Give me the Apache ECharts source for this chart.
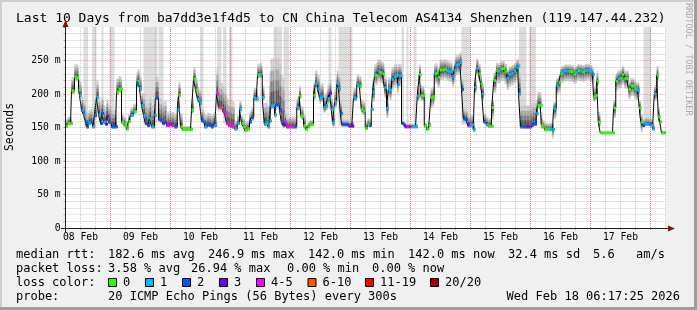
<!DOCTYPE html>
<html>
<head>
<meta charset="utf-8">
<script src="https://cdn.jsdelivr.net/npm/echarts@6/dist/echarts.min.js"></script>
<style>
  html, body { margin: 0; padding: 0; background: #f0f0f0; }
  #main { width: 697px; height: 310px; }
</style>
</head>
<body>
<div id="main"></div>
<script>
// hours counted from 08 Feb 00:00, the graph covers 06:17 08 Feb .. 06:17 18 Feb
var startHour = 6;
var endHour = 246;
var yMax = 300;

// median rtt (ms), one entry per step
var hours = [
  6, 6.8, 8, 8.4, 9.6, 10.4, 11.2, 11.6, 12.4, 13.2, 14, 14.4, 15.2, 16, 16.8, 17.6, 18.4, 19.2, 20, 20.4,
  21.2, 22, 22.4, 23.2, 23.8, 24.4, 26, 26.4, 27.2, 28, 28.4, 29.2, 29.8, 30.4, 31.2, 32, 33.1, 33.6, 34.4, 34.8,
  35.6, 36.4, 37.2, 37.9, 38.8, 39.6, 40.4, 41.6, 42, 43.2, 44, 44.8, 45.6, 46.4,
  46.8, 47.6, 48.4, 49.6, 50.7, 51.2, 52, 52.8, 54.4, 56, 56.4, 57.2, 58, 58.8, 59.6, 60.4, 61.2, 61.6, 62.7, 63.5,
  64.3, 65.1, 65.7, 66.4, 67.2, 68, 68.9, 69.6, 70.4, 71.1, 72, 72.7, 73.6, 74.7, 75.6, 76.4, 77.1, 77.7, 78.7, 79.6,
  80.4, 81.3, 82.3, 82.8, 83.7, 84.7, 85.5, 86.3, 86.9, 87.6,
  88, 88.8, 89.6, 90.1, 90.9, 91.6, 92.3, 92.9, 93.6, 94.3, 95.2, 96.4, 97.6, 98.5, 99.5, 100.1, 100.5, 101.2, 102.1, 102.9,
  103.7, 104.5, 105.2, 105.9, 106.8, 107.6, 108.3, 109.2, 110.1, 110.8, 111.6, 112.3, 112.8, 113.6, 114.5, 115.2, 115.9, 116.5, 117.6, 118.5,
  119.2, 120.5, 121.2, 122.5, 123.5, 124.3, 124.9, 125.9, 126.8, 127.5, 128.3,
  128.8, 129.6, 130, 130.8, 131.7, 132.7, 133.5, 134.4, 135.1, 135.7, 136.4, 137.3, 138, 138.8, 139.1, 139.9, 140.4, 141.1, 141.7, 142.5,
  143.3, 144.4, 145.2, 146, 146.7, 147.5, 148.1, 148.7, 149.5, 150.4, 151.3, 152.1, 152.8, 153.5, 154, 154.8, 155.7, 156.7, 157.5, 158.4,
  159.3, 160, 160.7, 161.5, 162, 162.8, 163.7, 164.4, 165.1, 166, 166.8, 167.7, 168.4, 169.1,
  169.6, 170.3, 171.2, 172, 172.5, 173.3, 174.3, 175.2, 176.3, 176.5, 177.3, 178.3, 178.9, 180, 180.9, 181.6, 182.5, 183.3, 184.3, 185.3,
  186.3, 186.9, 187.2, 188, 189.2, 190.4, 191.6, 192.3, 192.9, 193.6, 194.3, 194.8, 195.9, 196.3, 196.7, 197.6, 198.8, 199.6, 200.8, 201.2,
  202.3, 203.2, 204, 204.5, 205.6, 206.7, 207.6, 208.3, 209.3, 210, 210.8,
  211.5, 212.8, 213.7, 214.8, 215.6, 215.9, 216.8, 217.2, 217.9, 218.5, 219.1, 219.9, 221.6, 223.2, 224.8, 225.2, 226.1, 226.8, 227.9, 228.5,
  229.5, 230.4, 231.2, 232.1, 232.8, 233.5, 234.1, 234.8, 235.5, 236.1, 236.8, 237.7, 238.7, 239.6, 240.1, 240.8, 241.5, 242.5, 243.1, 243.7,
  244.4, 245.6
];
var median = [
  152, 156, 156, 205, 225, 224, 206, 198, 176, 169, 158, 151, 156, 158, 151, 168, 195, 169, 156, 171,
  158, 155, 167, 158, 157, 151, 151, 203, 207, 207, 158, 155, 152, 148, 159, 168, 173, 174, 214, 219,
  208, 183, 168, 156, 153, 163, 151, 168, 194, 162, 160, 156, 158, 153,
  153, 155, 153, 151, 176, 198, 151, 147, 147, 147, 176, 222, 206, 192, 187, 160, 158, 151, 154, 153,
  151, 154, 153, 200, 180, 179, 174, 170, 156, 153, 152, 151, 148, 156, 177, 156, 151, 146, 148, 159,
  165, 194, 193, 228, 229, 195, 155, 156, 151, 160,
  182, 183, 169, 184, 184, 176, 158, 154, 158, 151, 151, 151, 151, 180, 197, 168, 166, 153, 147, 151,
  154, 154, 198, 215, 208, 194, 196, 180, 183, 193, 201, 177, 158, 188, 215, 208, 171, 154, 154, 154,
  152, 152, 194, 214, 212, 177, 174, 149, 154, 153, 177,
  203, 227, 228, 234, 232, 230, 209, 179, 207, 206, 222, 226, 227, 214, 227, 227, 156, 154, 151, 151,
  151, 151, 151, 151, 197, 229, 198, 197, 152, 147, 153, 194, 196, 230, 231, 225, 236, 236, 237, 235,
  234, 233, 226, 235, 243, 244, 247, 207, 163, 162, 154, 154, 154, 147,
  210, 238, 230, 215, 200, 158, 154, 152, 152, 180, 220, 235, 234, 237, 238, 233, 224, 229, 231, 234,
  239, 242, 200, 151, 151, 151, 151, 153, 156, 155, 171, 183, 183, 153, 151, 147, 147, 147, 147, 178,
  213, 217, 230, 232, 234, 234, 234, 233, 230, 232, 235,
  234, 233, 235, 235, 235, 233, 229, 196, 198, 219, 158, 142, 142, 142, 142, 179, 219, 223, 224, 229,
  223, 223, 207, 212, 212, 208, 206, 206, 179, 158, 153, 155, 155, 155, 153, 148, 200, 228, 166, 158,
  142, 142
];
// loss bucket per step (index into lossLabels)
var loss = [
  0, 0, 0, 0, 0, 0, 0, 1, 1, 1, 2, 2, 1, 2, 1, 2, 1, 1, 2, 2,
  1, 3, 3, 2, 2, 2, 2, 0, 0, 0, 0, 0, 0, 0, 0, 1, 1, 0, 2, 0,
  1, 1, 1, 2, 2, 1, 1, 1, 2, 2, 2, 2, 3, 4,
  4, 3, 4, 2, 1, 0, 0, 0, 0, 0, 0, 0, 0, 1, 1, 2, 2, 1, 2, 2,
  2, 2, 1, 4, 4, 5, 4, 4, 4, 4, 4, 4, 1, 1, 1, 0, 0, 0, 0, 2,
  2, 1, 1, 0, 1, 1, 1, 1, 1, 1,
  1, 1, 1, 2, 2, 2, 2, 3, 4, 4, 4, 4, 2, 1, 0, 0, 0, 0, 0, 0,
  0, 0, 0, 1, 1, 1, 1, 1, 1, 1, 3, 1, 1, 1, 1, 1, 2, 2, 2, 2,
  3, 3, 1, 1, 0, 0, 0, 0, 0, 2, 1,
  1, 0, 0, 1, 0, 0, 1, 1, 1, 1, 1, 1, 1, 1, 1, 1, 2, 2, 3, 4,
  3, 1, 1, 1, 1, 0, 0, 0, 0, 0, 0, 0, 0, 1, 0, 0, 0, 0, 0, 1,
  1, 1, 1, 1, 1, 1, 1, 2, 2, 2, 3, 1, 1, 1,
  1, 1, 0, 0, 1, 2, 1, 0, 0, 0, 0, 0, 1, 0, 0, 0, 1, 1, 1, 1,
  1, 1, 1, 2, 2, 3, 3, 2, 2, 2, 1, 0, 0, 0, 0, 0, 0, 1, 1, 1,
  1, 0, 0, 1, 1, 1, 0, 0, 0, 1, 0,
  1, 0, 1, 1, 1, 1, 1, 0, 0, 0, 0, 0, 0, 0, 0, 0, 0, 1, 0, 0,
  0, 0, 0, 0, 0, 0, 1, 1, 0, 0, 2, 1, 1, 2, 1, 1, 1, 0, 0, 0,
  0, 0
];

// smoke spread around the median (ms above / below), by time block
var smokeStart = [6, 8.4, 11.6, 16.8, 26.4, 28.4, 34.4, 37.2, 46, 52.8,
  56.4, 60.4, 66.4, 73.6, 79.6, 82.8, 85.2, 87.2, 93.6, 98.4,
  102, 105.2, 116.4, 121.2, 125.6, 128.8, 140.4, 146.4, 149.2, 152,
  164.4, 169.6, 173.2, 176.4, 187.2, 194, 196.4, 200.8, 217.2, 219.6,
  225.2, 236.8, 241.2, 243.6];
var smokeUp = [10, 20, 20, 25, 20, 12, 18, 32, 20, 5,
  18, 18, 38, 12, 15, 17, 32, 70, 15, 15,
  7, 20, 8, 15, 10, 18, 5, 15, 5, 15,
  15, 15, 12, 12, 32, 20, 10, 10, 15, 0,
  12, 10, 14, 3];
var smokeDown = [3, 5, 3, 3, 5, 3, 5, 3, 3, 2,
  5, 3, 3, 3, 5, 5, 3, 5, 3, 5,
  2, 8, 2, 5, 3, 15, 2, 8, 2, 15,
  5, 10, 3, 18, 3, 5, 3, 15, 8, 0,
  15, 3, 10, 1];

// periods where some pings went off the top of the graph
var spikeFrom = [13.2, 16.6, 20.4, 23.6, 37.2, 43.2, 60, 66.6, 69, 71.4, 89.2, 93.2, 111.2, 115.2, 140.4, 142.4, 145.2, 164.4, 187.4, 191.4, 237.2];
var spikeTo = [15, 18.4, 21.2, 25.6, 42.8, 45.2, 61.2, 68.4, 70.4, 72.8, 92.6, 95.4, 112.4, 120.8, 141.4, 143.2, 146.4, 168, 190.4, 194.2, 240.2];
var spikeLow = [151, 151, 158, 151, 153, 156, 158, 174, 156, 151, 176, 151, 177, 152, 154, 151, 151, 154, 151, 153, 153];

var lossLabels = ['0', '1', '2', '3', '4-5', '6-10', '11-19', '20/20'];
var lossColors = ['#26ff00', '#00b8ff', '#0059ff', '#6a00ff', '#ff00ff', '#ff5500', '#ff0000', '#a10000'];

var rttStats = ['182.6 ms avg', '246.9 ms max', '142.0 ms min', '142.0 ms now', '32.4 ms sd', '5.6', 'am/s'];
var lossStats = ['3.58 % avg', '26.94 % max', '0.00 % min', '0.00 % now'];
var probeText = '20 ICMP Echo Pings (56 Bytes) every 300s';
var stampText = 'Wed Feb 18 06:17:25 2026';
var titleText = 'Last 10 Days from ba7dd3e1f4d5 to CN China Telecom AS4134 Shenzhen (119.147.44.232)';

var MONO = '"DejaVu Sans Mono"';

function smokeIndex(h) {
  var k = 0;
  for (var j = 0; j < smokeStart.length; j++) {
    if (smokeStart[j] <= h) k = j;
  }
  return k;
}

var stepRows = hours.map(function (h, i) {
  var next = i + 1 < hours.length ? hours[i + 1] : endHour;
  var k = smokeIndex(h);
  return [h, next, median[i], smokeUp[k], smokeDown[k], loss[i]];
});
var lineData = hours.map(function (h, i) { return [h, median[i]]; });
lineData.push([endHour, median[median.length - 1]]);
var spikeRows = spikeFrom.map(function (f, i) { return [f, spikeTo[i], spikeLow[i]]; });

var midnights = [];
for (var d = 24; d < endHour; d += 24) midnights.push({ xAxis: d });

function spikeItem(params, api) {
  var a = api.coord([api.value(0), yMax]);
  var b = api.coord([api.value(1), api.value(2)]);
  return { type: 'rect', shape: { x: a[0], y: a[1], width: b[0] - a[0], height: b[1] - a[1] },
    style: { fill: '#dddddd' } };
}

function smokeItem(params, api) {
  var t0 = api.value(0), t1 = api.value(1), m = api.value(2), up = api.value(3), dn = api.value(4);
  var layers = [[1, '#cccccc'], [0.75, '#a8a8a8'], [0.52, '#808080'], [0.3, '#555555']];
  var kids = layers.map(function (l) {
    var a = api.coord([t0, m + up * l[0]]);
    var b = api.coord([t1, m - dn * l[0]]);
    return { type: 'rect', shape: { x: a[0], y: a[1], width: b[0] - a[0], height: b[1] - a[1] },
      style: { fill: l[1] } };
  });
  return { type: 'group', children: kids };
}

function markerItem(params, api) {
  var a = api.coord([api.value(0), api.value(2)]);
  var b = api.coord([api.value(1), api.value(2)]);
  var w = Math.max(b[0] - a[0], 2.5);
  return { type: 'rect', shape: { x: a[0], y: a[1] - 1.5, width: w, height: 3 },
    style: { fill: lossColors[api.value(5)] } };
}

function txt(x, y, s, extra) {
  return { type: 'text', x: x, y: y, silent: true,
    style: Object.assign({ text: s, font: '12px ' + MONO, fill: '#000', textVerticalAlign: 'middle' }, extra || {}) };
}

var graphics = [
  { type: 'rect', shape: { x: 0, y: 0, width: 697, height: 2 }, style: { fill: '#cfcfcf' } },
  { type: 'rect', shape: { x: 0, y: 0, width: 2, height: 310 }, style: { fill: '#cfcfcf' } },
  { type: 'rect', shape: { x: 0, y: 307, width: 697, height: 3 }, style: { fill: '#9e9e9e' } },
  { type: 'rect', shape: { x: 694, y: 0, width: 3, height: 310 }, style: { fill: '#9e9e9e' } },
  // axes and arrows
  { type: 'line', shape: { x1: 65.5, y1: 232, x2: 65.5, y2: 24 }, style: { stroke: '#202020', lineWidth: 1 }, z: 10 },
  { type: 'line', shape: { x1: 61, y1: 228.5, x2: 670, y2: 228.5 }, style: { stroke: '#202020', lineWidth: 1 }, z: 10 },
  { type: 'polygon', shape: { points: [[62.5, 27], [68.5, 27], [65.5, 20]] }, style: { fill: '#8b1010' }, z: 10 },
  { type: 'polygon', shape: { points: [[668, 225.5], [668, 231.5], [675, 228.5]] }, style: { fill: '#8b1010' }, z: 10 },
  txt(16, 19, titleText, { font: '13px ' + MONO }),
  txt(10, 127, 'Seconds', { font: '11.4px ' + MONO, textAlign: 'center' }),
  { type: 'text', x: 688, y: 3, rotation: -Math.PI / 2, silent: true,
    style: { text: 'RRDTOOL / TOBI OETIKER', font: '8.5px ' + MONO, fill: '#aaaaaa', textVerticalAlign: 'middle' } }
];
graphics[9].rotation = Math.PI / 2;

var rttX = [108, 208, 308, 408, 508, 593, 636];
graphics.push(txt(16, 254.5, 'median rtt:'));
rttStats.forEach(function (s, i) { graphics.push(txt(rttX[i], 254.5, s)); });
var lossX = [108, 191, 287, 372];
graphics.push(txt(16, 268.5, 'packet loss:'));
lossStats.forEach(function (s, i) { graphics.push(txt(lossX[i], 268.5, s)); });
var boxX = [108, 145, 182, 219, 256, 307.5, 365, 430];
graphics.push(txt(16, 282.5, 'loss color:'));
lossLabels.forEach(function (s, i) {
  graphics.push({ type: 'rect', shape: { x: boxX[i] + 0.5, y: 278.5, width: 8, height: 8 },
    style: { fill: lossColors[i], stroke: '#000', lineWidth: 1 } });
  graphics.push(txt(boxX[i] + 15, 282.5, s));
});
graphics.push(txt(16, 296.5, 'probe:'));
graphics.push(txt(108, 296.5, probeText));
graphics.push(txt(680, 296.5, stampText, { textAlign: 'right' }));

function pad2(n) { return (n < 10 ? '0' : '') + n; }

var option = {
  backgroundColor: '#f0f0f0',
  animation: false,
  grid: { left: 65.5, right: 31.5, top: 27, bottom: 82, show: true, backgroundColor: '#ffffff', borderWidth: 0 },
  xAxis: {
    type: 'value', min: startHour, max: endHour, interval: 6, z: 5,
    axisLine: { show: false },
    axisTick: { show: true, length: 2, lineStyle: { color: '#b0b0b0' } },
    axisLabel: {
      margin: 4, fontFamily: 'DejaVu Sans Mono', fontSize: 9.7, color: '#000',
      showMinLabel: false, showMaxLabel: false,
      formatter: function (v) {
        if ((v - 12) % 24 !== 0) return '';
        return pad2(8 + (v - 12) / 24) + ' Feb';
      }
    },
    splitLine: { show: true, lineStyle: { color: 'rgba(140,140,140,0.45)', type: [1, 1], width: 1 } }
  },
  yAxis: {
    type: 'value', min: 0, max: yMax, interval: 50, z: 5,
    axisLine: { show: false },
    axisTick: { show: true, length: 2, lineStyle: { color: '#808080' } },
    minorTick: { show: true, splitNumber: 5, length: 2, lineStyle: { color: '#b0b0b0' } },
    axisLabel: {
      margin: 5, fontFamily: 'DejaVu Sans Mono', fontSize: 9.7, color: '#000', showMaxLabel: false,
      formatter: function (v) { return v === 0 ? '0' : v + ' m'; }
    },
    splitLine: { show: true, showMaxLine: false, lineStyle: { color: 'rgba(255,70,70,0.45)', type: [1, 1], width: 1 } },
    minorSplitLine: { show: true, lineStyle: { color: 'rgba(140,140,140,0.45)', type: [1, 1], width: 1 } }
  },
  series: [
    { type: 'custom', renderItem: spikeItem, data: spikeRows, encode: { x: [0, 1], y: 2 }, clip: true, silent: true },
    { type: 'custom', renderItem: smokeItem, data: stepRows, encode: { x: [0, 1], y: 2 }, clip: true, silent: true },
    {
      type: 'line', data: lineData, step: 'end', showSymbol: false, symbol: 'none', silent: true, z: 3,
      lineStyle: { color: '#000', width: 1 },
      markLine: { silent: true, symbol: 'none', label: { show: false }, animation: false,
        lineStyle: { color: 'rgba(255,70,70,0.6)', type: [1, 1], width: 1 }, data: midnights }
    },
    { type: 'custom', renderItem: markerItem, data: stepRows, encode: { x: [0, 1], y: 2 }, clip: true, silent: true, z: 4 }
  ],
  graphic: graphics
};

echarts.init(document.getElementById('main')).setOption(option);
</script>
</body>
</html>
